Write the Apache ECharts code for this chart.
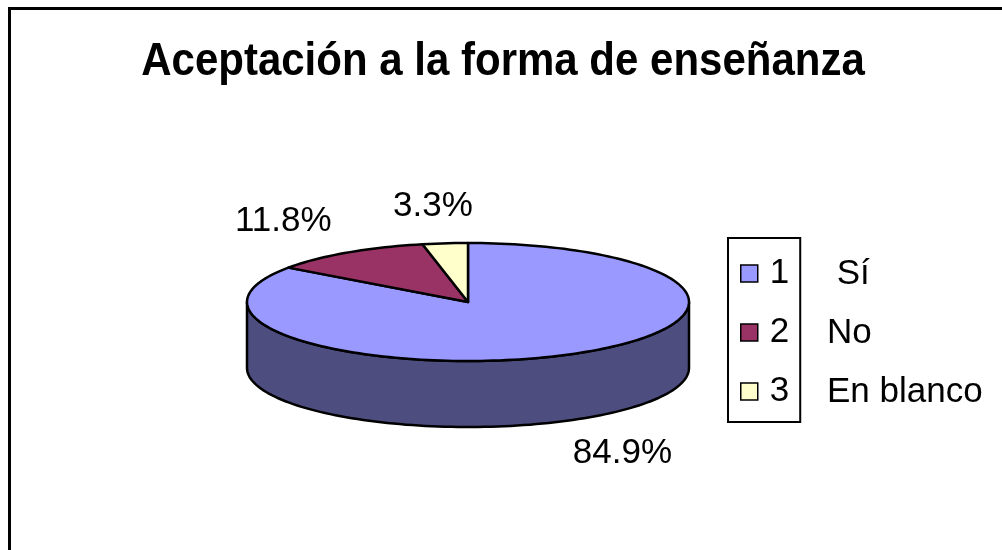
<!DOCTYPE html>
<html>
<head>
<meta charset="utf-8">
<script src="https://cdn.jsdelivr.net/npm/echarts@6/dist/echarts.min.js"></script>
<style>
  html, body { margin: 0; padding: 0; background: #fff; }
  #chart { width: 1002px; height: 550px; }
</style>
</head>
<body>
<div id="chart"></div>
<script>
// pastel 3D pie, Excel style
const legendNames = ['1', '2', '3']
const answers = [' Sí', 'No', 'En blanco']
const percents = [84.9, 11.8, 3.3]
const sliceColors = ['#9999FF', '#993366', '#FFFFCC']
const sideColors = ['#4D4D80', '#4D1A33', '#808066']

const FONT = "'Liberation Sans', Arial, sans-serif"
const pie = { cx: 468, cy: 302, rx: 221, ry: 59, depth: 66 }

// a: radians, clockwise from 12 o'clock
function pt(a, dy) {
  return [pie.cx + pie.rx * Math.sin(a), pie.cy - pie.ry * Math.cos(a) + (dy || 0)]
}
function arc(a0, a1, dy) {
  const n = Math.max(2, Math.ceil(Math.abs(a1 - a0) / 0.03))
  const pts = []
  for (let i = 0; i <= n; i++) pts.push(pt(a0 + (a1 - a0) * i / n, dy))
  return pts
}

const total = percents.reduce((a, b) => a + b, 0)
let acc = 0
const series = percents.map((v, i) => {
  const start = acc
  acc += v
  return {
    type: 'custom',
    name: legendNames[i],
    coordinateSystem: 'none',
    itemStyle: { color: sliceColors[i] },
    data: [[v, start]],
    renderItem: function (params, api) {
      const val = api.value(0)
      const a0 = api.value(1) / total * Math.PI * 2
      const a1 = a0 + val / total * Math.PI * 2
      const line = { stroke: '#000', lineWidth: 2.5, lineJoin: 'round' }
      const children = []
      // front wall, only the part between 90 and 270 degrees shows
      const s0 = Math.max(a0, Math.PI / 2)
      const s1 = Math.min(a1, Math.PI * 1.5)
      if (s1 > s0) {
        const pts = arc(s0, s1, 0).concat(arc(s1, s0, pie.depth))
        children.push({
          type: 'polygon',
          shape: { points: pts },
          style: Object.assign({ fill: sideColors[i] }, line)
        })
      }
      children.push({
        type: 'polygon',
        shape: { points: [[pie.cx, pie.cy]].concat(arc(a0, a1, 0)) },
        style: Object.assign({ fill: sliceColors[i] }, line)
      })
      const m = (a0 + a1) / 2
      const lx = pie.cx + pie.rx * 1.53 * Math.sin(m)
      const ly = pie.cy - pie.ry * 1.63 * Math.cos(m) + (Math.cos(m) < 0 ? pie.depth : 0)
      children.push({
        type: 'text',
        x: lx,
        y: ly,
        style: {
          text: val.toFixed(1) + '%',
          fill: '#000',
          font: '35px ' + FONT,
          align: 'center',
          verticalAlign: 'middle'
        }
      })
      return { type: 'group', children: children }
    }
  }
})

const chart = echarts.init(document.getElementById('chart'))
chart.setOption({
  animation: false,
  color: sliceColors,
  legend: {
    orient: 'vertical',
    left: 728,
    top: 238,
    data: legendNames,
    icon: 'rect',
    itemWidth: 17,
    itemHeight: 17,
    itemGap: 24,
    padding: [18, 11, 13, 12],
    borderColor: '#000',
    borderWidth: 2,
    selectedMode: false,
    itemStyle: { borderColor: '#000', borderWidth: 1.5 },
    textStyle: { fontSize: 35, fontFamily: FONT, color: '#000', padding: [0, 0, 0, 7] }
  },
  graphic: [
    {
      type: 'rect',
      shape: { x: 9.5, y: 8.5, width: 1100, height: 600 },
      style: { fill: 'none', stroke: '#000', lineWidth: 3 },
      silent: true
    },
    {
      // title, drawn a bit taller than the font like the original
      type: 'text',
      x: 503,
      y: 62,
      scaleY: 1.12,
      style: {
        text: 'Aceptación a la forma de enseñanza',
        font: 'bold 42px ' + FONT,
        fill: '#000',
        align: 'center',
        verticalAlign: 'middle'
      }
    }
  ].concat(answers.map((t, i) => ({
    type: 'text',
    x: 827,
    y: 274 + i * 59,
    style: { text: t, font: '35px ' + FONT, fill: '#000', verticalAlign: 'middle' }
  }))),
  series: series
})
</script>
</body>
</html>
